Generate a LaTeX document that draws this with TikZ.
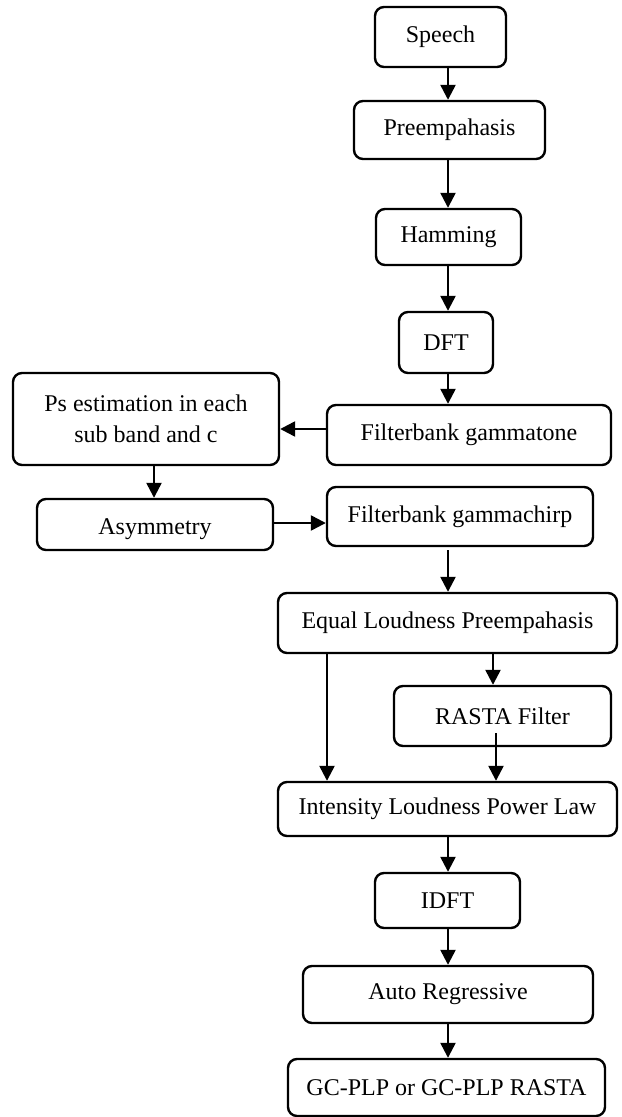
\documentclass[tikz,border=0pt]{standalone}
\usepackage{fontspec}
\setmainfont{Liberation Serif}
\usetikzlibrary{arrows.meta}
\tikzset{
  box/.style={draw=black, line width=1.2pt, rounded corners=4.5pt, align=center, inner sep=0pt,
    font=\fontsize{12}{15.5}\selectfont},
  arr/.style={line width=1.2pt, -{Triangle[length=7.5pt,width=7.5pt]}},
}
\begin{document}
\begin{tikzpicture}[x=0.5pt,y=-0.5pt]
\useasboundingbox (0,0) rectangle (621,1117);
\node[box, minimum width=65.5pt, minimum height=30pt] (speech) at (440.5,37) {Speech};
\node[box, minimum width=95.5pt, minimum height=29pt] (pre) at (449.5,130) {Preempahasis};
\node[box, minimum width=72.5pt, minimum height=28pt] (ham) at (448.5,237) {Hamming};
\node[box, minimum width=47pt, minimum height=30.5pt] (dft) at (446,342.5) {DFT};
\node[box, minimum width=142pt, minimum height=30pt] (gt) at (469,435) {Filterbank gammatone};
\node[box, minimum width=133pt, minimum height=46pt] (ps) at (146,419) {Ps estimation in each\\sub band and c};
\node[box, minimum width=118pt, minimum height=25.5pt, text depth=0pt] (asym) at (155,524.5) {\raisebox{-2pt}{Asymmetry}};
\node[box, minimum width=133pt, minimum height=29.5pt] (gc) at (460,516.5) {Filterbank gammachirp};
\node[box, minimum width=169.5pt, minimum height=30pt] (eq) at (447.5,623) {Equal Loudness Preempahasis};
\node[box, minimum width=108.5pt, minimum height=30pt] (rasta) at (502.5,716) {RASTA Filter};
\node[box, minimum width=169.5pt, minimum height=27pt] (int) at (447.5,809) {Intensity Loudness Power Law};
\node[box, minimum width=72.5pt, minimum height=27.5pt] (idft) at (447.5,900.5) {IDFT};
\node[box, minimum width=145pt, minimum height=28.5pt] (ar) at (448,994.5) {Auto Regressive};
\node[box, minimum width=158.5pt, minimum height=28.5pt] (out) at (446.5,1087.5) {GC-PLP or GC-PLP RASTA};
\coordinate (cx) at (448,0);
\coordinate (lx) at (327,0);
\coordinate (rx) at (493,0);
\coordinate (rx2) at (496,0);
\coordinate (px) at (154,0);
\coordinate (gy) at (0,429);
\coordinate (ay) at (0,523);
\draw[arr] (speech.south -| cx) -- (pre.north -| cx);
\draw[arr] (pre.south -| cx) -- (ham.north -| cx);
\draw[arr] (ham.south -| cx) -- (dft.north -| cx);
\draw[arr] (dft.south -| cx) -- (gt.north -| cx);
\draw[arr] (gt.west |- gy) -- (ps.east |- gy);
\draw[arr] (ps.south -| px) -- (asym.north -| px);
\draw[arr] (asym.east |- ay) -- (gc.west |- ay);
\draw[arr] ([yshift=-1.5pt]gc.south -| cx) -- (eq.north -| cx);
\draw[arr] (eq.south -| lx) -- (int.north -| lx);
\draw[arr] (eq.south -| rx) -- (rasta.north -| rx);
\draw[arr] ([yshift=7pt]rasta.south -| rx2) -- (int.north -| rx2);
\draw[arr] (int.south -| cx) -- (idft.north -| cx);
\draw[arr] (idft.south -| cx) -- (ar.north -| cx);
\draw[arr] (ar.south -| cx) -- (out.north -| cx);
\end{tikzpicture}
\end{document}
